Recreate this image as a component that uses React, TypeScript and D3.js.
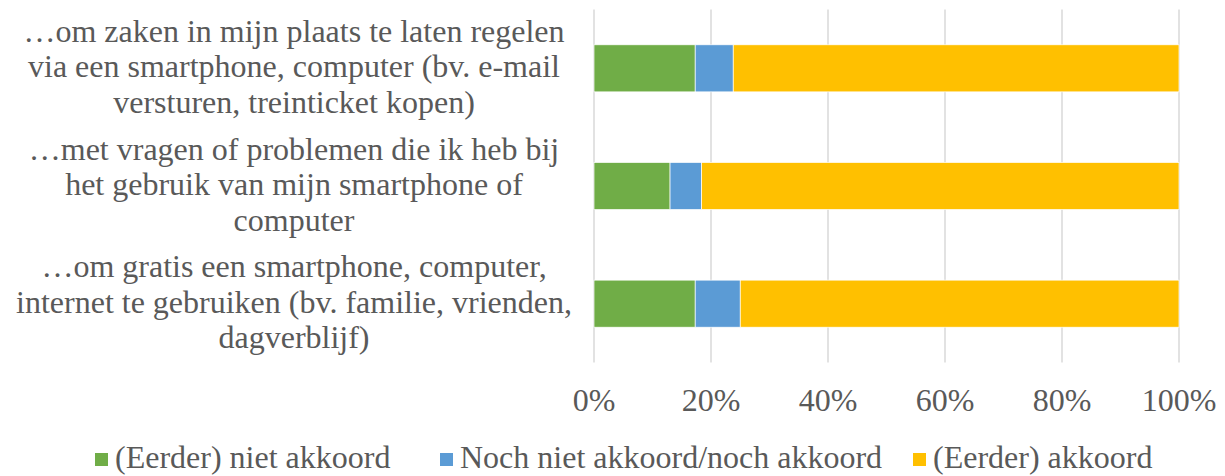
import React, { useEffect, useRef } from "react";
import * as d3 from "d3";

const categories: string[][] = [
  ["…om zaken in mijn plaats te laten regelen", "via een smartphone, computer (bv. e-mail", "versturen, treinticket kopen)"],
  ["…met vragen of problemen die ik heb bij", "het gebruik van mijn smartphone of", "computer"],
  ["…om gratis een smartphone, computer,", "internet te gebruiken (bv. familie, vrienden,", "dagverblijf)"],
];
const seriesNames = ["(Eerder) niet akkoord", "Noch niet akkoord/noch akkoord", "(Eerder) akkoord"];
const nietAkkoord = [17.3, 13.0, 17.3];
const noch = [6.5, 5.4, 7.7];
const akkoord = [76.2, 81.6, 75.0];
const tickValues = [0, 20, 40, 60, 80, 100];
const colors = ["#70AD47", "#5B9BD5", "#FFC000"];

const W = 1225, H = 476;
const FONT = "'Liberation Serif', 'Times New Roman', serif";
const FS = 32;

export default function App() {
  const ref = useRef<SVGSVGElement>(null);
  useEffect(() => {
    const svg = d3.select(ref.current!);
    svg.selectAll("*").remove();
    const x = d3.scaleLinear().domain([0, 100]).range([594, 1179]);
    const y = d3.scaleBand<number>().domain([0, 1, 2]).range([9.5, 362.5]).paddingInner(0.6).paddingOuter(0.3);

    // gridlines
    svg.append("g").selectAll("line").data(tickValues).join("line")
      .attr("x1", d => x(d)).attr("x2", d => x(d))
      .attr("y1", 9.5).attr("y2", 362.5)
      .attr("stroke", "#D9D9D9").attr("stroke-width", 1.5);

    const series = [nietAkkoord, noch, akkoord];
    const rows = categories.map((_, i) => ({ i, v: series.map(s => s[i]) }));
    const stacked = d3.stack<any>().keys([0, 1, 2] as any).value((d: any, k: any) => d.v[k])(rows as any);
    stacked.forEach((layer, k) => {
      svg.append("g").selectAll("rect").data(layer).join("rect")
        .attr("x", d => x(d[0]))
        .attr("width", d => x(d[1]) - x(d[0]))
        .attr("y", (d: any) => y(d.data.i)!)
        .attr("height", y.bandwidth())
        .attr("fill", colors[k])
        .attr("stroke", "#fff").attr("stroke-width", 0.7);
    });

    // x tick labels
    svg.append("g").selectAll("text").data(tickValues).join("text")
      .attr("x", d => x(d)).attr("y", 411)
      .attr("text-anchor", "middle")
      .attr("font-family", FONT).attr("font-size", FS).attr("fill", "#595959")
      .text(d => d + "%");

    // category labels
    const lh = 35.5;
    categories.forEach((lines, i) => {
      const cy = y(i)! + y.bandwidth() / 2;
      const t = svg.append("text")
        .attr("text-anchor", "middle")
        .attr("font-family", FONT).attr("font-size", FS).attr("fill", "#595959");
      lines.forEach((ln, j) => {
        t.append("tspan").attr("x", 294)
          .attr("y", cy + (j - (lines.length - 1) / 2) * lh + 9)
          .text(ln);
      });
    });

    // legend
    const legendX = [95, 440, 913];
    seriesNames.forEach((name, k) => {
      svg.append("rect").attr("x", legendX[k]).attr("y", 453).attr("width", 13).attr("height", 13).attr("fill", colors[k]);
      svg.append("text").attr("x", legendX[k] + 20).attr("y", 468)
        .attr("font-family", FONT).attr("font-size", FS).attr("fill", "#595959")
        .text(name);
    });
  }, []);
  return (
    <svg ref={ref} width={W} height={H} style={{ position: "absolute", left: 0, top: 0, background: "#fff" }} />
  );
}
